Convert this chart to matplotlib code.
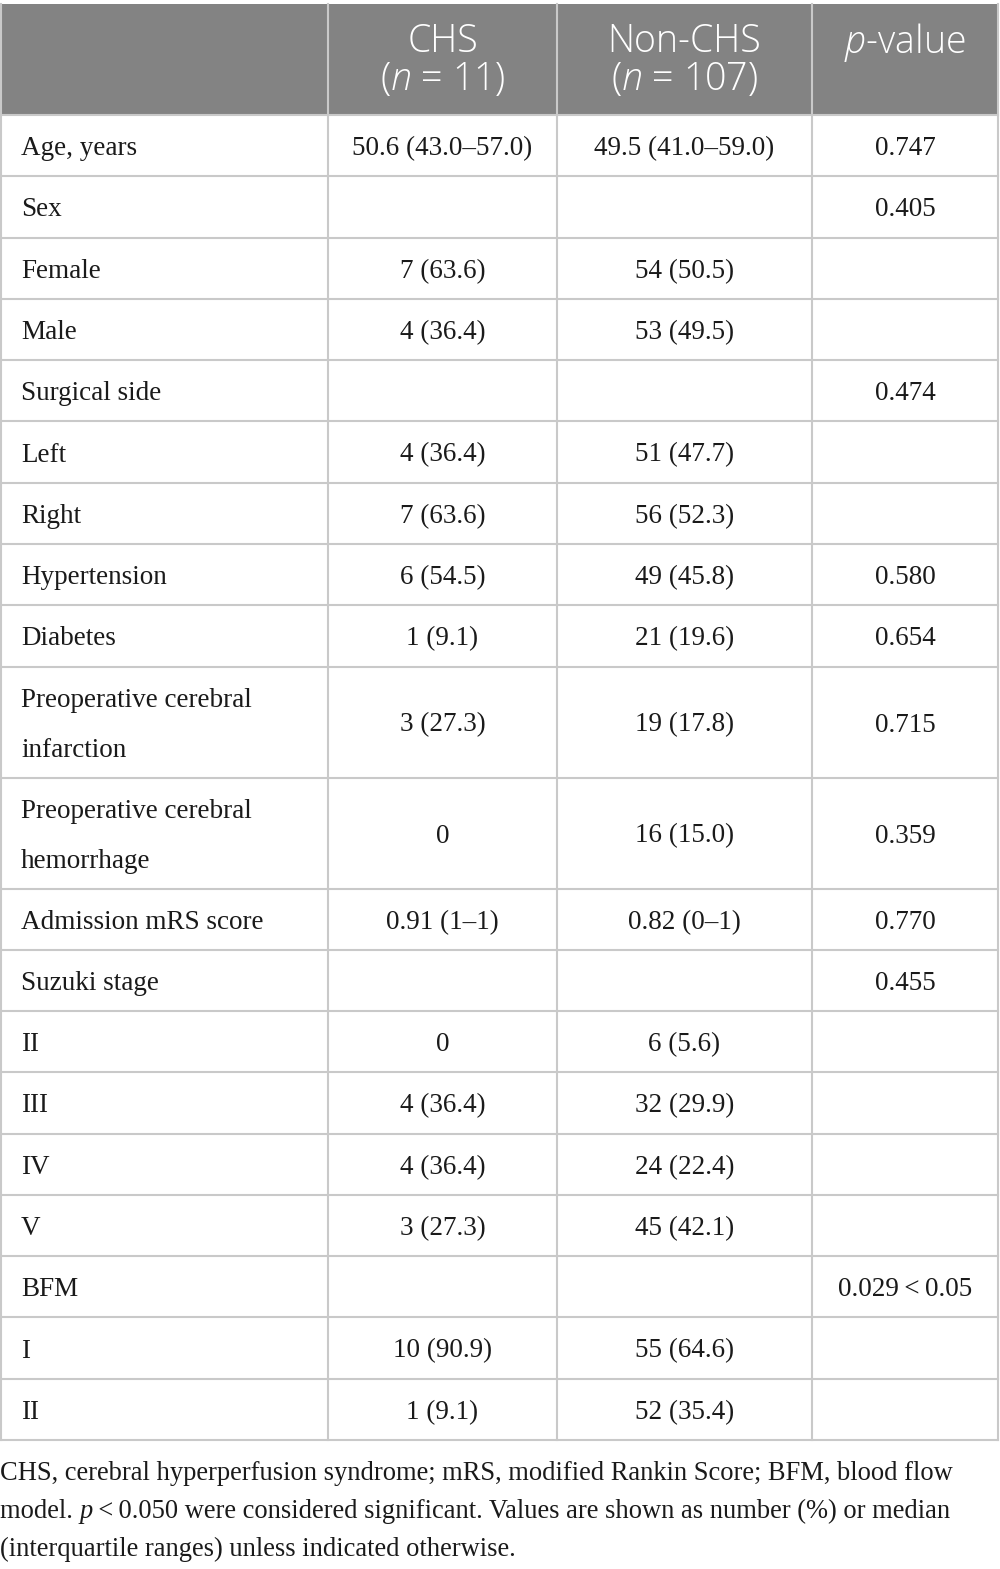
import matplotlib.pyplot as plt
from matplotlib.patches import Rectangle

plt.rcParams['mathtext.fontset'] = 'custom'
plt.rcParams['mathtext.rm'] = 'Open Sans:light'
plt.rcParams['mathtext.it'] = 'Open Sans:italic:light'

SERIF = 'Liberation Serif'
SANS = 'Open Sans'

row_labels = ['Age, years', 'Sex', 'Female', 'Male', 'Surgical side', 'Left', 'Right',
              'Hypertension', 'Diabetes', 'Preoperative cerebral\ninfarction',
              'Preoperative cerebral\nhemorrhage', 'Admission mRS score', 'Suzuki stage',
              'II', 'III', 'IV', 'V', 'BFM', 'I', 'II']
chs = ['50.6 (43.0\u201357.0)', '', '7 (63.6)', '4 (36.4)', '', '4 (36.4)', '7 (63.6)',
       '6 (54.5)', '1 (9.1)', '3 (27.3)', '0', '0.91 (1\u20131)', '', '0', '4 (36.4)',
       '4 (36.4)', '3 (27.3)', '', '10 (90.9)', '1 (9.1)']
non_chs = ['49.5 (41.0\u201359.0)', '', '54 (50.5)', '53 (49.5)', '', '51 (47.7)', '56 (52.3)',
           '49 (45.8)', '21 (19.6)', '19 (17.8)', '16 (15.0)', '0.82 (0\u20131)', '', '6 (5.6)',
           '32 (29.9)', '24 (22.4)', '45 (42.1)', '', '55 (64.6)', '52 (35.4)']
p_values = ['0.747', '0.405', '', '', '0.474', '', '', '0.580', '0.654', '0.715', '0.359',
            '0.770', '0.455', '', '', '', '', '0.029\u2009<\u20090.05', '', '']
headers = [['CHS', '($\\mathit{n}$ = 11)'], ['Non-CHS', '($\\mathit{n}$ = 107)'],
           ['$\\mathit{p}$-value']]

footer = [
    [('CHS, cerebral hyperperfusion syndrome; mRS, modified Rankin Score; BFM, blood flow', 'normal')],
    [('model. ', 'normal'), ('p', 'italic'),
     ('\u2009<\u20090.050 were considered significant. Values are shown as number (%) or median', 'normal')],
    [('(interquartile ranges) unless indicated otherwise.', 'normal')],
]

W, H = 1000, 1569
fig = plt.figure(figsize=(W / 100, H / 100), dpi=100)
ax = fig.add_axes([0, 0, 1, 1])
ax.set_xlim(0, W)
ax.set_ylim(H, 0)
ax.axis('off')

col_x = [0, 328, 557, 812, 998]
centers = [(col_x[i] + col_x[i + 1]) / 2 for i in range(4)]
head_top, head_bot = 4, 114
single_h, double_h = 61.28, 111
line_c = '#c9c9c9'
txt_c = '#1a1a1a'
fs = 19.5
fs_foot = 19.1
base_off = 9.5    # baseline below row centre
line_gap = 50     # spacing of wrapped label lines

# header
ax.add_patch(Rectangle((0, head_top), col_x[-1], head_bot - head_top, color='#838383', lw=0))
for i, lines in enumerate(headers):
    for j, s in enumerate(lines):
        ax.text(centers[i + 1], 42 + 38 * j, s, ha='center', va='center', color='white',
                fontsize=27, family=SANS, fontweight='light')

# body rows
y = head_bot + 1
ax.plot([0, col_x[-1]], [y, y], color=line_c, lw=1.5)
for lab, a, b, p in zip(row_labels, chs, non_chs, p_values):
    parts = lab.split('\n')
    h = double_h if len(parts) > 1 else single_h
    yc = y + h / 2
    for k, s in enumerate(parts):
        yy = yc + (k - (len(parts) - 1) / 2) * line_gap + base_off
        ax.text(21, yy, s, ha='left', va='baseline', fontsize=fs, family=SERIF, color=txt_c)
    for xc, v in zip(centers[1:], [a, b, p]):
        ax.text(xc, yc + base_off, v, ha='center', va='baseline', fontsize=fs,
                family=SERIF, color=txt_c)
    y += h
    ax.plot([0, col_x[-1]], [y, y], color=line_c, lw=1.5)

for x in col_x:
    xx = x + 0.8 if x == 0 else x
    ax.plot([xx, xx], [head_top, y], color=line_c, lw=1.5, zorder=3)

# footer with italic pieces
fig.canvas.draw()
r = fig.canvas.get_renderer()
inv = ax.transData.inverted()
fy = 1470 + base_off
for line in footer:
    x = 0
    for txt, style in line:
        t = ax.text(x, fy, txt, ha='left', va='baseline', fontsize=fs_foot, family=SERIF,
                    style=style, color=txt_c)
        bb = t.get_window_extent(r)
        x = inv.transform((bb.x1, bb.y0))[0]
    fy += 38

fig.savefig('out.png', dpi=100)
